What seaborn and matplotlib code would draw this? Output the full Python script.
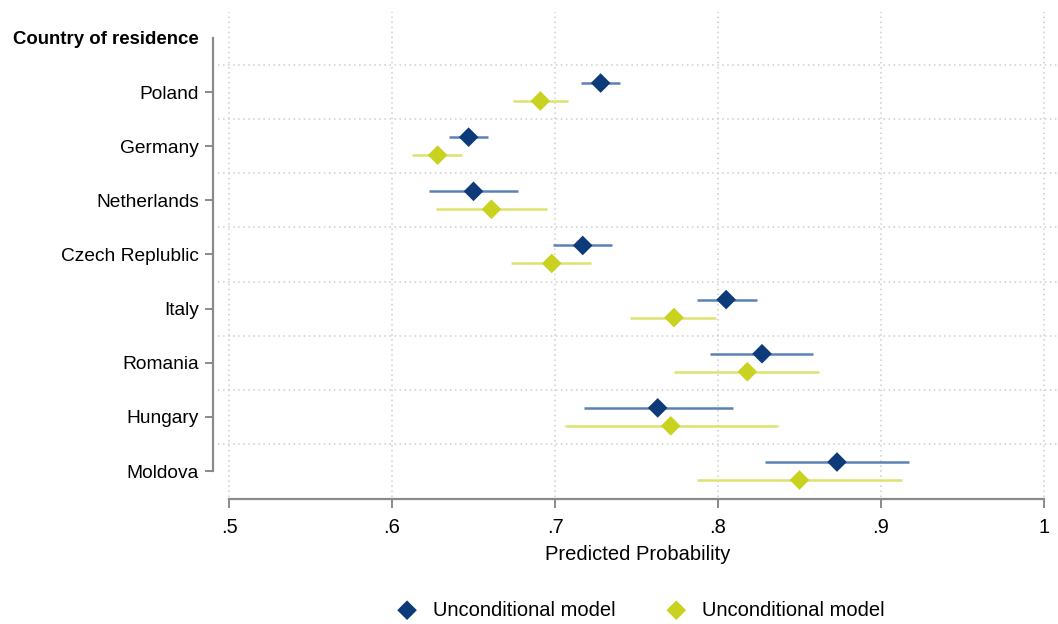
import matplotlib
matplotlib.use("Agg")
import matplotlib.pyplot as plt
import seaborn as sns
import pandas as pd
import numpy as np

countries = ["Poland", "Germany", "Netherlands", "Czech Replublic",
             "Italy", "Romania", "Hungary", "Moldova"]
header = "Country of residence"
model_labels = ["Unconditional model", "Unconditional model"]

# model 1 (navy)
m1_est = [0.728, 0.647, 0.650, 0.717, 0.805, 0.827, 0.763, 0.873]
m1_lo  = [0.716, 0.635, 0.623, 0.699, 0.787, 0.795, 0.718, 0.829]
m1_hi  = [0.740, 0.659, 0.677, 0.735, 0.824, 0.858, 0.809, 0.917]
# model 2 (yellow-green)
m2_est = [0.691, 0.628, 0.661, 0.698, 0.773, 0.818, 0.771, 0.850]
m2_lo  = [0.674, 0.612, 0.627, 0.673, 0.746, 0.773, 0.706, 0.787]
m2_hi  = [0.708, 0.643, 0.695, 0.722, 0.799, 0.862, 0.837, 0.913]

x_ticks = [0.5, 0.6, 0.7, 0.8, 0.9, 1.0]
x_ticklabels = [".5", ".6", ".7", ".8", ".9", "1"]
x_label = "Predicted Probability"

sns.set_theme(style="white")
plt.rcParams["font.family"] = ["Liberation Sans", "DejaVu Sans"]
plt.rcParams["text.color"] = "black"
plt.rcParams["axes.labelcolor"] = "black"
plt.rcParams["xtick.color"] = "black"
plt.rcParams["ytick.color"] = "black"
plt.rcParams["xtick.labelsize"] = 14.5
plt.rcParams["ytick.labelsize"] = 13.8

DPI = 100
fig = plt.figure(figsize=(10.58, 6.24), dpi=DPI)
ax = fig.add_axes([218/1058, 1 - 497/624, 1 - 218/1058, (497 - 12)/624])

rows = np.arange(1, len(countries) + 1)
off = 0.166
df1 = pd.DataFrame({"x": m1_est, "y": rows - off, "lo": m1_lo, "hi": m1_hi})
df2 = pd.DataFrame({"x": m2_est, "y": rows + off, "lo": m2_lo, "hi": m2_hi})

blue_m, blue_l = "#0d3b7a", "#5b82b6"
yel_m, yel_l = "#c8d21f", "#dde46e"

grid_c = "#cdcdcd"
for xv in x_ticks:
    ax.axvline(xv, color=grid_c, lw=1.1, ls=(0, (1, 2.3)), zorder=0)
for yv in np.arange(0.5, len(countries), 1.0):
    ax.axhline(yv, color=grid_c, lw=1.1, ls=(0, (1, 2.3)), zorder=0)

ax.hlines(df1["y"], df1["lo"], df1["hi"], color=blue_l, lw=1.8, zorder=2)
ax.hlines(df2["y"], df2["lo"], df2["hi"], color=yel_l, lw=1.8, zorder=2)
sns.scatterplot(data=df1, x="x", y="y", marker="D", s=100, color=blue_m,
                edgecolor="none", label=model_labels[0], ax=ax, zorder=3)
sns.scatterplot(data=df2, x="x", y="y", marker="D", s=100, color=yel_m,
                edgecolor="none", label=model_labels[1], ax=ax, zorder=3)

ax.set_xlim(0.5 - 11/1630, 1 + 14/1630)
ax.set_ylim(8.48, -0.478)

ax.set_yticks([0] + list(rows))
ax.set_yticklabels([header] + countries)
ax.set_xticks(x_ticks)
ax.set_xticklabels(x_ticklabels)
ax.set_xlabel(x_label, fontsize=14.5, labelpad=6, color="black")
ax.set_ylabel("")

for s in ["top", "right"]:
    ax.spines[s].set_visible(False)
ax.spines["left"].set_position(("outward", 5 * 72 / DPI))
ax.spines["left"].set_bounds(0, 8)
ax.spines["bottom"].set_position(("outward", 2 * 72 / DPI))
ax.spines["bottom"].set_bounds(0.5, 1.0)
for s in ["left", "bottom"]:
    ax.spines[s].set_color("#8a8a8a")
    ax.spines[s].set_linewidth(1.6)

ax.tick_params(axis="y", length=6, width=1.4, color="#8a8a8a", pad=4,
               left=True, labelsize=13.8, labelcolor="black")
ax.tick_params(axis="x", length=6.5, width=1.4, color="#8a8a8a", pad=7,
               bottom=True, labelsize=14.5, labelcolor="black")

leg = ax.legend(loc="center", bbox_to_anchor=(636/1058, 1 - 610/624),
                bbox_transform=fig.transFigure, ncol=2, frameon=False,
                fontsize=14.5, handletextpad=0.3, columnspacing=2.0,
                markerscale=1.0)
for t in leg.get_texts():
    t.set_color("black")

fig.canvas.draw()
ax.yaxis.get_major_ticks()[0].tick1line.set_visible(False)
hdr = ax.get_yticklabels()[0]
hdr.set_fontweight("bold")
hdr.set_fontsize(13.4)

fig.savefig("out.png", dpi=DPI)
